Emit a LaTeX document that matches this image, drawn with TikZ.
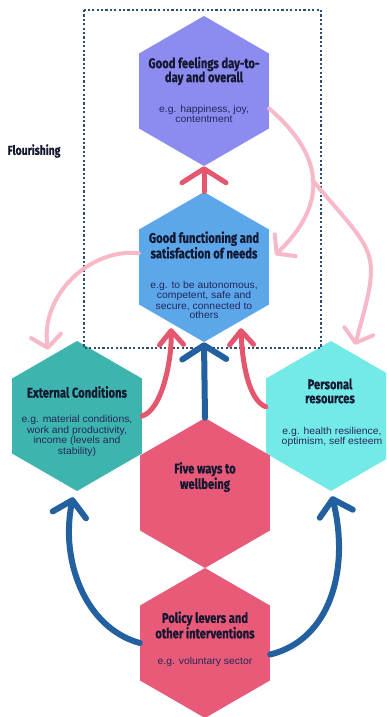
\documentclass[tikz,border=0pt]{standalone}
\usepackage{fontspec}
\usetikzlibrary{arrows.meta,shapes.geometric}
\setmainfont{Liberation Sans}
\newfontfamily\titlefont[FakeStretch=0.8,FakeBold=0.6]{Fira Sans}
\newfontfamily\bodyfont[FakeStretch=1.04]{Liberation Sans}
\definecolor{cTop}{HTML}{8B8BF0}
\definecolor{cFun}{HTML}{5CA6EA}
\definecolor{cExt}{HTML}{3DB4AE}
\definecolor{cPer}{HTML}{74EAE8}
\definecolor{cRed}{HTML}{E85A78}
\definecolor{cArr}{HTML}{E5566F}
\definecolor{cPink}{HTML}{F7B8C8}
\definecolor{cBlu}{HTML}{22609F}
\definecolor{cDot}{HTML}{2F4F72}
\definecolor{cTitle}{HTML}{141830}
\definecolor{cBody}{HTML}{23295A}
\begin{document}
\begin{tikzpicture}[x=1pt,y=-1pt,
  hexa/.style={regular polygon, regular polygon sides=6, shape border rotate=30,
    minimum size=150pt, inner sep=0pt, draw=none},
  title/.style={font={\titlefont\bfseries\fontsize{14}{14}\selectfont}, text=cTitle, align=center, inner sep=0pt},
  body/.style={font={\bodyfont\fontsize{10}{10}\selectfont}, text=cBody, align=center, inner sep=0pt},
  redarr/.style={draw=cArr, line width=5pt, line cap=round},
  pinkarr/.style={draw=cPink, line width=4pt, line cap=round, -{Straight Barb[length=12pt,width=30pt,round]}},
  bluearr/.style={draw=cBlu, line width=6pt, line cap=round},
  bigbarb/.style={-{Straight Barb[length=14pt,width=44pt,round]}},
  smallbarb/.style={-{Straight Barb[length=14pt,width=24pt,round]}},
  midbarb/.style={-{Straight Barb[length=15pt,width=34pt,round]}},
  box/.style={draw=cDot, line width=2.4pt, dash pattern=on 2.2pt off 2.2pt}
]
\useasboundingbox (0,0) rectangle (386,717);
\clip (0,0) rectangle (386,717);
\fill[white] (0,0) rectangle (386,717);

% hexagons
\node[hexa, fill=cTop] (gf) at (204,91) {};
\node[hexa, fill=cFun] (fn) at (204,267) {};
\node[hexa, fill=cExt] (ec) at (77,416) {};
\node[hexa, fill=cPer] (pr) at (331,416) {};
\node[hexa, fill=cRed] (fw) at (205,493) {};
\node[hexa, fill=cRed] (pl) at (205,643) {};

% flourishing box
\draw[box] (84,10) rectangle (321,348);

% end points
\coordinate (aEnd) at ([xshift=6pt,yshift=12pt]fn.0);
\coordinate (bEnd) at ([xshift=24pt,yshift=-4pt]pr.90);
\coordinate (cEnd) at ([xshift=-29pt,yshift=-9pt]ec.90);
\coordinate (dEnd) at ([xshift=-33pt,yshift=14pt]fn.-90);
\coordinate (eEnd) at ([xshift=37pt,yshift=14pt]fn.-90);
\coordinate (gEnd) at ([xshift=-4pt,yshift=-6pt]ec.-90);
\coordinate (hEnd) at ([xshift=1pt,yshift=-5pt]pr.-90);

% pink arcs
\draw[pinkarr] (gf.-15) .. controls (297,133) and (348,185) .. coordinate[pos=0.6] (split) (aEnd);
\draw[pinkarr] (split) .. controls (378,258) and (382,248) .. (bEnd);
\draw[pinkarr] (fn.168) .. controls (90,248) and (40,295) .. (cEnd);

% red arrows
\draw[redarr, bigbarb] (fn.90) -- (gf.-90);
\draw[redarr, smallbarb] (ec.0) .. controls (162,410) and (172,360) .. (dEnd);
\draw[redarr, smallbarb] (pr.172) .. controls (248,400) and (242,360) .. (eEnd);

% blue arrows
\draw[bluearr, bigbarb] (fw.90) -- (fn.-90);
\draw[bluearr, midbarb] (pl.180) .. controls (85,628) and (60,560) .. (gEnd);
\draw[bluearr, midbarb] (pl.-10) .. controls (330,640) and (350,570) .. (hEnd);

% texts
\node[title] (flo) at (34,151) {\fontsize{13}{14}\selectfont Flourishing};
\node[title] (gft) at (204,71) {Good feelings day-to-\\day and overall};
\node[body] (gfb) at (204,114) {e.g. happiness, joy,\\contentment};
\node[title] (fnt) at (204,245) {Good functioning and\\satisfaction of needs};
\node[body, font={\bodyfont\fontsize{10}{9.2}\selectfont}] (fnb) at (204,300) {e.g. to be autonomous,\\competent, safe and\\secure, connected to\\others};
\node[title] (ect) at (77,392) {External Conditions};
\node[body, font={\bodyfont\fontsize{10}{10.8}\selectfont}] (ecb) at (77,436) {e.g. material conditions,\\work and productivity,\\income (levels and\\stability)};
\node[title] (prt) at (330,391) {Personal\\resources};
\node[body, font={\bodyfont\fontsize{10}{9.6}\selectfont}] (prb) at (332,437) {e.g. health resilience,\\optimism, self esteem};
\node[title] (fwt) at (205,477) {Five ways to\\wellbeing};
\node[title] (plt) at (205,625) {Policy levers and\\other interventions};
\node[body] (plb) at (205,662) {e.g. voluntary sector};
\end{tikzpicture}
\end{document}
